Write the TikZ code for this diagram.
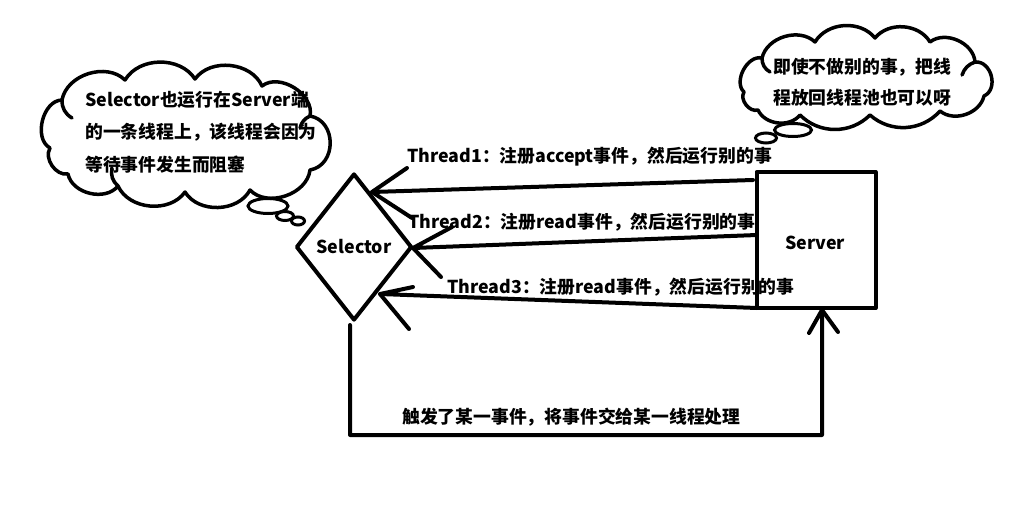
\documentclass[tikz,border=0pt]{standalone}
\usepackage{fontspec}
\setmainfont{Noto Sans CJK SC}
\usetikzlibrary{shapes.geometric}
\tikzset{
  ln/.style={line width=4pt, line cap=round, line join=round},
  lbl/.style={font=\fontsize{17.8}{20}\selectfont\bfseries, anchor=west, inner sep=0pt},
  cloudline/.style={line width=3.5pt, line cap=round, line join=round},
  dot/.style={draw, line width=3pt, ellipse, inner sep=0pt},
  lobe/.style={bend left=#1},
}
\begin{document}
\begin{tikzpicture}[x=1pt,y=-1pt]
\useasboundingbox[fill=white] (0,0) rectangle (1035,514);

% ---- cloud 1 ----
\draw[cloudline]
  (50,148) to[lobe=75] (62,100) to[lobe=62] (125,80) to[lobe=58] (195,79)
  to[lobe=60] (262,86) to[lobe=70] (310,116) to[bend left=80, looseness=1.3] (310,170)
  to[lobe=65] (250,190) to[lobe=60] (185,192) to[lobe=60] (118,186)
  to[lobe=65] (68,174) to[lobe=65] cycle;
\draw[cloudline] (62,100) to[bend right=30] (72,118);
\draw[cloudline] (118,186) to[bend left=30] (112,168);
\draw[cloudline] (310,116) to[bend right=25] (300,128);
\coordinate (c1) at (185,137);
\node[dot, minimum width=40pt, minimum height=15pt] (c1a) at (268,206) {};
\node[dot, minimum width=17pt, minimum height=9pt] (c1b) at (285,216) {};
\node[dot, minimum width=13pt, minimum height=8pt] (c1c) at (298,221) {};
\node[lbl] (c1t1) at (85,100) {Selector也运行在Server端};
\node[lbl] (c1t2) at (85,132) {的一条线程上，该线程会因为};
\node[lbl] (c1t3) at (85,165) {等待事件发生而阻塞};

% ---- cloud 2 ----
\draw[cloudline]
  (744,92) to[lobe=75] (762,58) to[lobe=60] (815,42) to[lobe=55] (875,38)
  to[lobe=55] (930,42) to[lobe=62] (975,62) to[bend left=80, looseness=1.2] (984,96)
  to[lobe=58] (940,111) to[lobe=45] (870,115) to[lobe=45] (800,115)
  to[lobe=58] (758,110) to[lobe=70] cycle;
\draw[cloudline] (762,58) to[bend right=30] (770,72);
\draw[cloudline] (975,62) to[bend right=25] (962,75);
\coordinate (c2) at (865,75);
\node[dot, minimum width=37pt, minimum height=13pt] (c2a) at (793,130) {};
\node[dot, minimum width=21pt, minimum height=10pt] (c2b) at (766,138) {};
\node[lbl] (c2t1) at (773,67) {即使不做别的事，把线};
\node[lbl] (c2t2) at (773,98) {程放回线程池也可以呀};

% ---- main shapes ----
\node[draw, ln, diamond, inner sep=0pt, minimum width=116pt, minimum height=147pt,
      font=\fontsize{17.8}{20}\selectfont\bfseries] (sel) at (354,247) {Selector};
\node[draw, ln, rectangle, inner sep=0pt, minimum width=119pt, minimum height=136pt] (srv) at (816,240) {};
\node[font=\fontsize{17.8}{20}\selectfont\bfseries, inner sep=0pt] (srvt) at (815,243) {Server};

% arrow 1
\coordinate (s1) at (753,180);
\coordinate (t1) at (372,192);
\draw[ln] (s1) -- (t1) -- (407,168);
\draw[ln] (t1) -- (412,218);
% arrow 2
\coordinate (s2) at (757,235);
\coordinate (t2) at (413,248);
\draw[ln] (s2) -- (t2) -- (452,227);
\draw[ln] (t2) -- (441,277);
% arrow 3
\coordinate (s3) at (757,308);
\coordinate (t3) at (380,294);
\draw[ln] (s3) -- (t3) -- (413,287);
\draw[ln] (t3) -- (409,329);
% return connector
\coordinate (b0) at (350,325);
\coordinate (b1) at (822,310);
\draw[ln] (b0) |- (822,435) -- (b1) -- (809,333);
\draw[ln] (b1) -- (838,332);

% labels
\node[lbl] (l1) at (407,157) {Thread1：注册accept事件，然后运行别的事};
\node[lbl] (l2) at (408,222) {Thread2：注册read事件，然后运行别的事};
\node[lbl] (l3) at (447,287) {Thread3：注册read事件，然后运行别的事};
\node[lbl] (l4) at (402,417) {触发了某一事件，将事件交给某一线程处理};
\end{tikzpicture}
\end{document}
